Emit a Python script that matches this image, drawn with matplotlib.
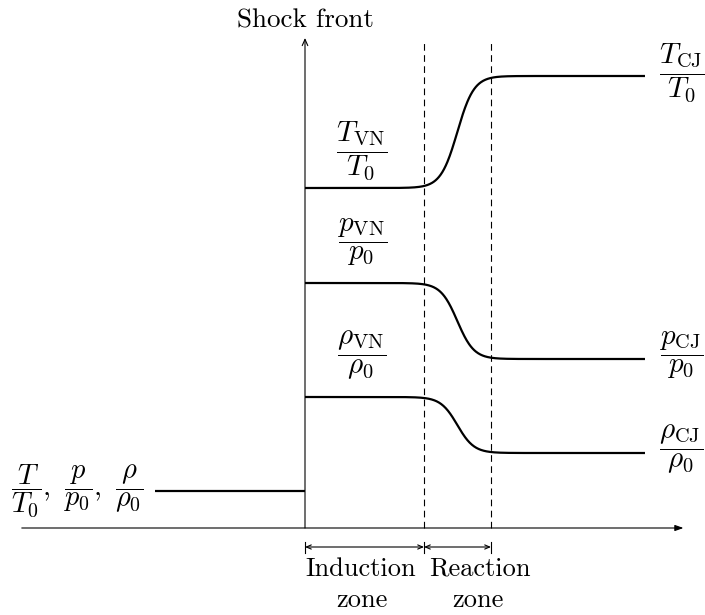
import numpy as np
import matplotlib
matplotlib.use("Agg")
import matplotlib.pyplot as plt

plt.rcParams['mathtext.fontset'] = 'cm'
plt.rcParams['font.family'] = ['cmr10', 'DejaVu Serif']
plt.rcParams['axes.formatter.use_mathtext'] = True

# ---- data (schematic ZND profile) ----
x_shock = 0.0            # shock front position
x_induction_end = 1.0    # end of induction zone
x_reaction_end = 1.563   # end of reaction zone
x_pre_start = -1.26      # start of pre-shock line
x_post_end = 2.857       # end of post-shock lines
x_axis_start = -2.38
x_axis_end = 3.18
y_axis_top = 4.90
transition_mid = 1.28
transition_width = 0.14

pre_level = 0.37
T_levels = (3.40, 4.52)    # (VN, CJ)
p_levels = (2.45, 1.69)
rho_levels = (1.31, 0.75)

vn_labels = [r'$\dfrac{T_{\mathrm{VN}}}{T_0}$', r'$\dfrac{p_{\mathrm{VN}}}{p_0}$',
             r'$\dfrac{\rho_{\mathrm{VN}}}{\rho_0}$']
cj_labels = [r'$\dfrac{T_{\mathrm{CJ}}}{T_0}$', r'$\dfrac{p_{\mathrm{CJ}}}{p_0}$',
             r'$\dfrac{\rho_{\mathrm{CJ}}}{\rho_0}$']
pre_label = r'$\dfrac{T}{T_0},\ \dfrac{p}{p_0},\ \dfrac{\rho}{\rho_0}$'
vn_label_offsets = (0.37, 0.41, 0.42)
cj_label_offsets = (0.03, 0.04, 0.04)

fig = plt.figure(figsize=(7.05, 6.15), dpi=100)
ax = fig.add_axes([0, 0, 1, 1])
ax.set_xlim(-305/119, 400/119)
ax.set_ylim(-0.87, 5.28)
ax.axis('off')

# axes arrows
ax.annotate('', xy=(x_axis_end, 0), xytext=(x_axis_start, 0),
            arrowprops=dict(arrowstyle='-|>,head_length=0.5,head_width=0.18',
                            lw=0.8, color='black', shrinkA=0, shrinkB=0))
ax.annotate('', xy=(x_shock, y_axis_top), xytext=(x_shock, 0),
            arrowprops=dict(arrowstyle='->,head_length=0.45,head_width=0.2',
                            lw=0.8, color='black', shrinkA=0, shrinkB=0))
ax.text(x_shock, 5.01, 'Shock front', ha='center', va='baseline', fontsize=19.5)

# dashed zone boundaries
for xd in (x_induction_end, x_reaction_end):
    ax.plot([xd, xd], [0, 4.86], color='black', lw=0.8, ls=(0, (6, 4)))

# pre-shock
ax.plot([x_pre_start, x_shock], [pre_level, pre_level], color='black', lw=1.6,
        solid_capstyle='butt')
ax.text(-1.36, pre_level, pre_label, ha='right', va='center', fontsize=20.5)

# post-shock profiles
xs = np.linspace(x_shock, x_post_end, 600)
step = 0.5 * (1 + np.tanh((xs - transition_mid) / transition_width))
for (vn, cj), vl, cl, vo, co in zip([T_levels, p_levels, rho_levels],
                                    vn_labels, cj_labels,
                                    vn_label_offsets, cj_label_offsets):
    ys = vn + (cj - vn) * step
    ax.plot(xs, ys, color='black', lw=1.6, solid_capstyle='butt')
    ax.text(0.48, vn + vo, vl, ha='center', va='center', fontsize=21)
    ax.text(2.975, cj + co, cl, ha='left', va='center', fontsize=21)

# zone brackets
yb = -0.19
for a, b in [(x_shock, x_induction_end), (x_induction_end, x_reaction_end)]:
    ax.annotate('', xy=(b, yb), xytext=(a, yb),
                arrowprops=dict(arrowstyle='<->,head_length=0.35,head_width=0.15',
                                lw=0.8, color='black', shrinkA=0, shrinkB=0))
for xt in (x_shock, x_induction_end, x_reaction_end):
    ax.plot([xt, xt], [yb - 0.06, yb + 0.05], color='black', lw=0.8)

ax.text(0.47, -0.48, 'Induction', ha='center', va='baseline', fontsize=19)
ax.text(0.48, -0.79, 'zone', ha='center', va='baseline', fontsize=19)
ax.text(1.47, -0.48, 'Reaction', ha='center', va='baseline', fontsize=19)
ax.text(1.45, -0.79, 'zone', ha='center', va='baseline', fontsize=19)

fig.savefig('out.png', dpi=100)
